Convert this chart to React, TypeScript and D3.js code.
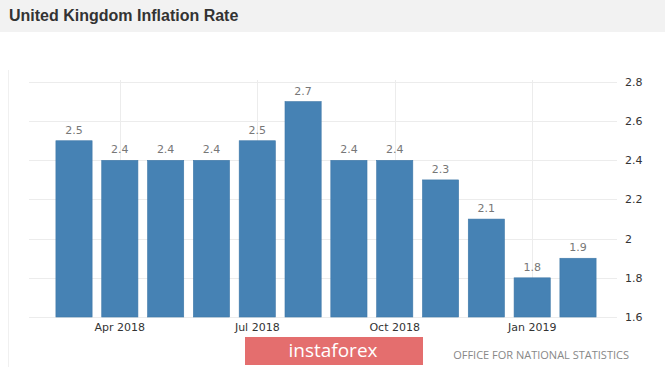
import React from "react";
import * as d3 from "d3";

const months = ["Mar 2018","Apr 2018","May 2018","Jun 2018","Jul 2018","Aug 2018","Sep 2018","Oct 2018","Nov 2018","Dec 2018","Jan 2019","Feb 2019"];
const values = [2.5, 2.4, 2.4, 2.4, 2.5, 2.7, 2.4, 2.4, 2.3, 2.1, 1.8, 1.9];
const xTickLabels = ["Apr 2018","Jul 2018","Oct 2018","Jan 2019"];
const yTicks = [1.6, 1.8, 2.0, 2.2, 2.4, 2.6, 2.8];

const W = 665, H = 367;
const plotLeft = 29, plotRight = 617, plotTop = 82, plotBottom = 317;

export default function App() {
  const x = d3.scaleBand<string>().domain(months).range([33, 619]).paddingInner(0.21).paddingOuter(0.5);
  const y = d3.scaleLinear().domain([1.6, 2.8]).range([plotBottom, plotTop]);
  const font = "'DejaVu Sans', Verdana, sans-serif";
  return (
    <svg width={W} height={H} style={{ position: "absolute", left: 0, top: 0, display: "block" }}>
      <rect x={0} y={0} width={W} height={H} fill="#ffffff" />
      <rect x={0} y={0} width={W} height={32} fill="#f2f2f2" />
      <text x={9} y={21} fontFamily="'Liberation Sans', Arial, sans-serif" fontWeight="bold" fontSize={16} fill="#333">United Kingdom Inflation Rate</text>
      <line x1={8.5} x2={8.5} y1={70} y2={H} stroke="#f0f0f0" />
      {yTicks.map(t => (
        <g key={t}>
          <line x1={plotLeft} x2={plotRight} y1={Math.round(y(t)) + 0.5} y2={Math.round(y(t)) + 0.5} stroke="#ececec" />
          <text x={625} y={y(t)} dy="0.35em" fontFamily={font} fontSize={11} fill="#333">{d3.format("")(t)}</text>
        </g>
      ))}
      {xTickLabels.map(m => {
        const cx = (x(m) as number) + x.bandwidth() / 2;
        return (
          <g key={m}>
            <line x1={Math.round(cx) + 0.5} x2={Math.round(cx) + 0.5} y1={80} y2={plotBottom} stroke="#ececec" />
          </g>
        );
      })}
      {months.map((m, i) => (
        <g key={m}>
          <rect x={x(m)} y={y(values[i])} width={x.bandwidth()} height={plotBottom - y(values[i])} fill="#4682b4" stroke="#3f78a8" strokeWidth={0.6} />
          <text x={(x(m) as number) + x.bandwidth() / 2} y={y(values[i]) - 7} textAnchor="middle" fontFamily={font} fontSize={11} fill="#777">{values[i]}</text>
        </g>
      ))}
      {xTickLabels.map(m => (
        <text key={m} x={(x(m) as number) + x.bandwidth() / 2} y={331} textAnchor="middle" fontFamily={font} fontSize={11} fill="#333">{m}</text>
      ))}
      <rect x={245} y={337} width={178} height={28} fill="#e46e6e" />
      <text x={333} y={357} textAnchor="middle" fontFamily="'Open Sans', sans-serif" fontSize={19} fill="#fff">instaforex</text>
      <text x={629} y={359} textAnchor="end" fontFamily="'Open Sans', sans-serif" fontSize={11} fill="#888">OFFICE FOR NATIONAL STATISTICS</text>
    </svg>
  );
}
